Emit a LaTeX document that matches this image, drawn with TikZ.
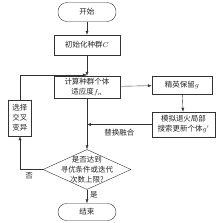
\documentclass[tikz,border=0pt]{standalone}
\usepackage{fontspec}
\newfontfamily\cjk{Noto Sans CJK SC}
\usetikzlibrary{shapes.geometric,arrows.meta}
\begin{document}
\begin{tikzpicture}
[x=1pt,y=-1pt,font=\cjk\fontsize{7.5}{10}\selectfont,
 every node/.style={draw=black!80, text=black!85, inner sep=0pt},
 box/.style={rectangle, minimum width=66pt, minimum height=20pt, align=center},
 term/.style={rectangle, rounded corners=9pt, minimum width=58pt, minimum height=19pt},
 arr/.style={draw=black!80, -{Latex[length=4pt,width=3pt]}},
 lbl/.style={draw=none}]
\useasboundingbox (0,0) rectangle (220,223);
\node[term] (start) at (87,12) {开始};
\node[box] (init) at (87,45) {初始化种群$C$};
\node[box, minimum height=22pt] (fit) at (87,87) {计算种群个体\\适应度$f_n$};
\node[box, minimum width=60pt, minimum height=18pt] (elite) at (182,85) {精英保留$g$};
\node[box, minimum width=63pt, minimum height=25pt] (sa) at (183.5,124.5) {模拟退火局部\\搜索更新个体$g'$};
\node[box, minimum width=23pt, minimum height=36pt] (sel) at (20,118) {选择\\交叉\\变异};
\node[diamond, minimum width=88pt, minimum height=40pt] (dec) at (87,169.5) {};
\node[lbl, align=center] (cond) at (dec) {是否达到\\寻优条件或迭代\\次数上限?};
\node[term, minimum height=17pt, rounded corners=8.5pt] (end) at (87,212) {结束};
\coordinate (loop) at (87,75);
\coordinate (merge) at (87,124.5);
% connectors
\draw[arr] (start) -- (init);
\draw[arr] (init) -- (fit);
\draw[arr] (fit) -- (elite);
\draw[arr] (elite) -- (sa);
\draw[arr] (fit) -- (dec);
\draw[arr] (sa) -- node[lbl, below=4pt] {替换融合} (merge);
\draw[arr] (dec) -- node[lbl, right=3pt, pos=0.4] {是} (end);
\draw[arr] (dec.west) -| node[lbl, below=3pt, pos=0.3] {否} (sel);
\draw[arr] (sel) |- (loop);
\end{tikzpicture}
\end{document}
